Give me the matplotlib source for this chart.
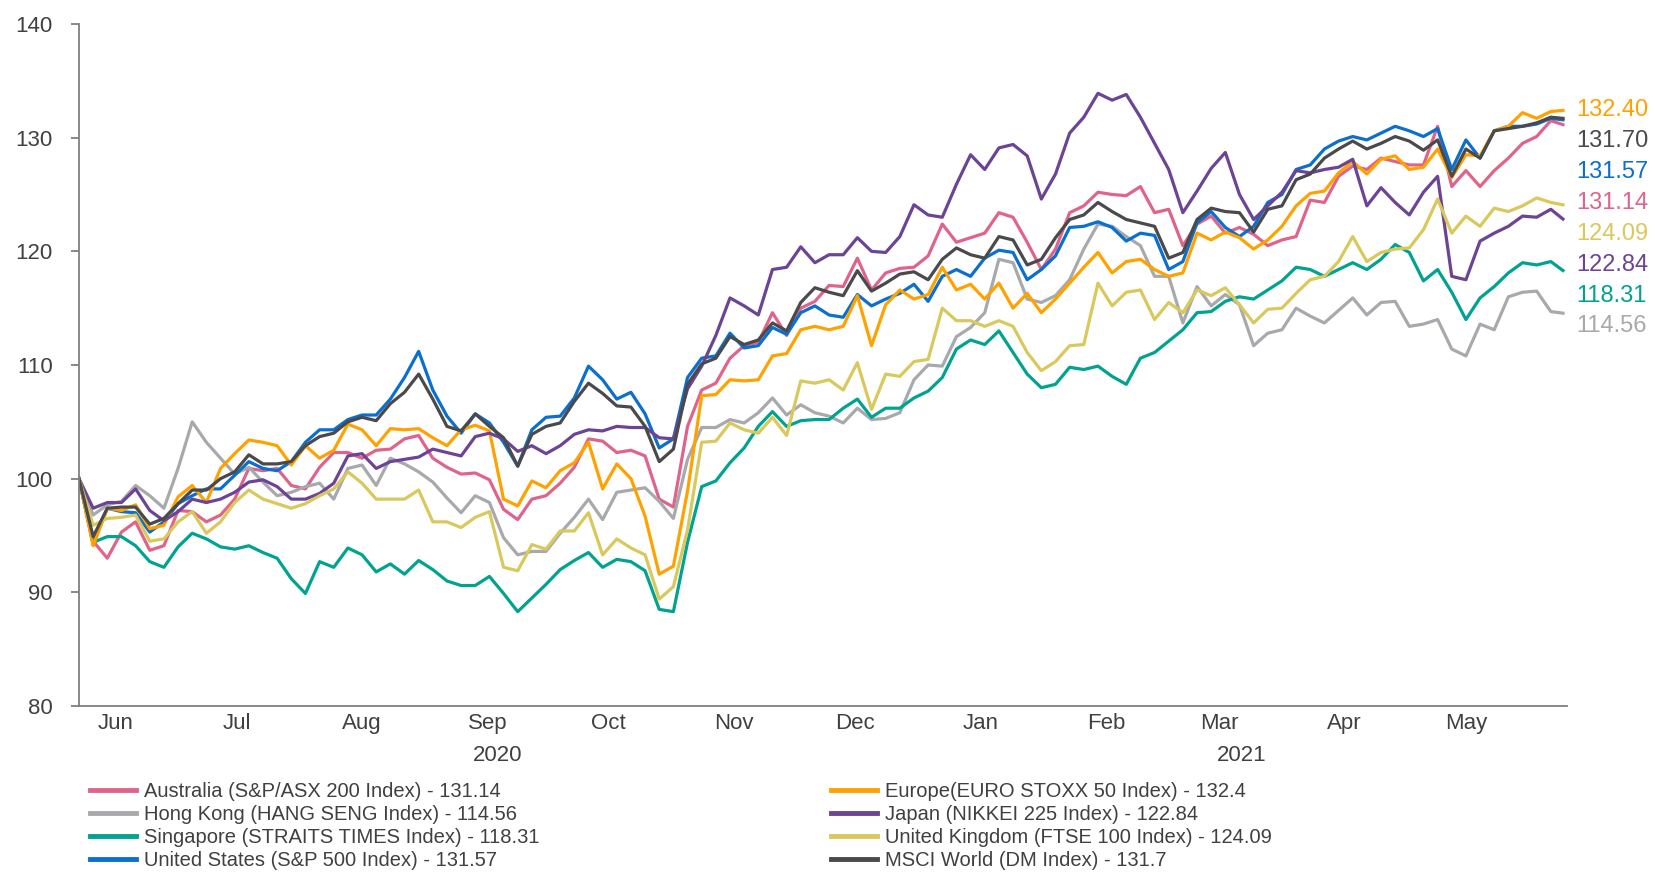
import pandas as pd
import numpy as np
import matplotlib
matplotlib.use("Agg")
import matplotlib.pyplot as plt
import matplotlib.dates as mdates
import matplotlib.transforms as mtransforms

plt.rcParams['font.family'] = ['Liberation Sans', 'DejaVu Sans']

# twice-weekly index levels rebased to 100, last entry is the latest close
dates = list(pd.date_range("2020-06-05", periods=105, freq="84h")) + [pd.Timestamp("2021-06-07")]

australia = [100, 94.5, 93.0, 95.3, 96.2, 93.7, 94.1, 97.2, 97.1, 96.2,
             96.8, 98.2, 100.9, 100.7, 100.9, 99.4, 99.1, 101.0, 102.3, 102.3,
             101.8, 102.5, 102.6, 103.5, 103.8, 101.8, 101.0, 100.4, 100.5, 99.9,
             97.3, 96.4, 98.2, 98.5, 99.6, 101.0, 103.5, 103.3, 102.3, 102.5,
             102.0, 98.2, 97.5, 104.6, 107.8, 108.4, 110.6, 111.7, 112.0, 114.6,
             112.6, 115.0, 115.6, 117.0, 116.9, 119.4, 116.6, 118.1, 118.5, 118.6,
             119.6, 122.4, 120.8, 121.2, 121.6, 123.4, 123.0, 120.8, 118.4, 120.2,
             123.4, 124.0, 125.2, 125.0, 124.9, 125.7, 123.4, 123.7, 120.5, 122.4,
             123.1, 121.6, 122.1, 121.5, 120.5, 121.0, 121.3, 124.5, 124.3, 126.6,
             127.5, 127.2, 128.2, 127.9, 127.6, 127.6, 131.0, 125.7, 127.1, 125.7,
             127.1, 128.2, 129.5, 130.1, 131.5, 131.14]
hong_kong = [100, 96.8, 97.7, 98.0, 99.4, 98.5, 97.4, 100.9, 105.0, 103.2,
             101.8, 100.4, 101.0, 99.7, 98.5, 98.8, 99.3, 99.6, 98.2, 100.9,
             101.2, 99.4, 101.8, 101.3, 100.6, 99.7, 98.3, 97.0, 98.5, 97.9,
             94.8, 93.3, 93.6, 93.6, 95.2, 96.6, 98.2, 96.4, 98.8, 99.0,
             99.2, 98.0, 96.5, 101.7, 104.5, 104.5, 105.2, 104.9, 105.8, 107.1,
             105.6, 106.5, 105.8, 105.5, 104.9, 106.2, 105.2, 105.3, 105.8, 108.7,
             110.0, 109.9, 112.5, 113.3, 114.6, 119.3, 119.0, 115.8, 115.5, 116.1,
             117.5, 120.2, 122.4, 122.2, 121.3, 120.5, 117.8, 117.8, 113.7, 116.9,
             115.2, 116.2, 115.3, 111.7, 112.8, 113.1, 115.0, 114.3, 113.7, 114.8,
             115.9, 114.4, 115.5, 115.6, 113.4, 113.6, 114.0, 111.4, 110.8, 113.6,
             113.1, 116.0, 116.4, 116.5, 114.7, 114.56]
singapore = [100, 94.4, 94.9, 94.9, 94.1, 92.7, 92.2, 94.0, 95.2, 94.7,
             94.0, 93.8, 94.1, 93.5, 93.0, 91.2, 89.9, 92.7, 92.2, 93.9,
             93.3, 91.8, 92.5, 91.6, 92.8, 92.0, 91.0, 90.6, 90.6, 91.4,
             89.9, 88.3, 89.5, 90.7, 92.0, 92.8, 93.5, 92.2, 92.9, 92.7,
             91.9, 88.5, 88.3, 94.4, 99.3, 99.8, 101.4, 102.7, 104.6, 105.9,
             104.6, 105.1, 105.2, 105.2, 106.2, 107.0, 105.4, 106.2, 106.2, 107.1,
             107.7, 108.9, 111.4, 112.2, 111.8, 113.0, 111.1, 109.2, 108.0, 108.3,
             109.8, 109.6, 109.9, 109.0, 108.3, 110.6, 111.1, 112.1, 113.1, 114.6,
             114.7, 115.6, 116.0, 115.8, 116.6, 117.4, 118.6, 118.4, 117.8, 118.4,
             119.0, 118.4, 119.3, 120.6, 119.9, 117.4, 118.4, 116.4, 114.0, 115.9,
             116.9, 118.1, 119.0, 118.8, 119.1, 118.31]
united_states = [100, 94.2, 97.4, 97.1, 97.0, 95.3, 96.2, 97.8, 98.5, 99.1,
                 99.1, 100.3, 101.5, 100.9, 100.7, 101.5, 103.2, 104.3, 104.3, 105.2,
                 105.6, 105.6, 107.0, 108.9, 111.2, 107.8, 105.5, 104.0, 105.7, 104.9,
                 103.2, 101.1, 104.3, 105.4, 105.5, 107.1, 109.9, 108.7, 107.0, 107.6,
                 105.7, 102.7, 103.5, 108.9, 110.6, 110.8, 112.8, 111.5, 111.7, 113.3,
                 112.7, 114.6, 115.2, 114.4, 114.2, 116.2, 115.2, 115.8, 116.3, 117.1,
                 115.6, 117.8, 118.4, 117.8, 119.4, 120.1, 119.9, 117.5, 118.4, 119.6,
                 122.1, 122.2, 122.6, 122.1, 120.9, 121.6, 121.4, 118.4, 119.1, 122.5,
                 123.5, 122.1, 121.3, 122.2, 124.3, 125.0, 127.2, 127.6, 129.0, 129.7,
                 130.1, 129.8, 130.4, 131.0, 130.6, 130.1, 130.8, 127.2, 129.8, 128.2,
                 130.6, 131.0, 131.0, 131.2, 131.7, 131.57]
europe = [100, 94.1, 97.4, 97.2, 97.7, 95.6, 95.9, 98.4, 99.4, 97.9,
          100.9, 102.2, 103.4, 103.2, 102.9, 101.2, 102.9, 101.8, 102.5, 104.8,
          104.3, 102.9, 104.4, 104.3, 104.4, 103.6, 102.9, 104.3, 104.7, 104.2,
          98.2, 97.6, 99.8, 99.2, 100.7, 101.4, 103.2, 99.1, 101.3, 100.0,
          96.7, 91.6, 92.3, 98.9, 107.3, 107.4, 108.7, 108.6, 108.7, 110.8,
          111.0, 113.1, 113.4, 113.1, 113.4, 116.1, 111.7, 115.3, 116.6, 115.8,
          116.2, 118.6, 116.6, 117.1, 115.8, 117.2, 115.0, 116.3, 114.6, 115.8,
          117.2, 118.6, 119.9, 118.1, 119.1, 119.3, 118.4, 117.8, 118.1, 121.6,
          121.0, 121.7, 121.2, 120.2, 121.0, 122.2, 124.0, 125.1, 125.3, 126.9,
          127.9, 126.8, 128.1, 128.4, 127.2, 127.4, 129.0, 126.5, 128.5, 128.4,
          130.6, 131.0, 132.2, 131.7, 132.3, 132.40]
japan = [100, 97.4, 97.9, 97.9, 99.1, 97.2, 96.3, 97.1, 98.2, 97.9,
         98.2, 98.8, 99.7, 99.9, 99.3, 98.2, 98.2, 98.7, 99.6, 102.0,
         102.2, 100.9, 101.5, 101.7, 101.9, 102.6, 102.3, 102.0, 103.7, 104.0,
         103.5, 102.4, 102.9, 102.2, 102.9, 103.9, 104.3, 104.2, 104.6, 104.5,
         104.5, 103.6, 103.5, 107.9, 109.9, 112.6, 115.9, 115.2, 114.4, 118.4,
         118.6, 120.4, 119.0, 119.7, 119.7, 121.2, 120.0, 119.9, 121.3, 124.1,
         123.2, 123.0, 125.9, 128.5, 127.2, 129.1, 129.4, 128.4, 124.6, 126.8,
         130.4, 131.8, 133.9, 133.3, 133.8, 131.8, 129.5, 127.2, 123.4, 125.3,
         127.3, 128.7, 125.0, 122.8, 124.0, 125.2, 127.1, 126.9, 127.2, 127.4,
         128.1, 124.0, 125.6, 124.3, 123.2, 125.2, 126.6, 117.8, 117.5, 120.9,
         121.6, 122.2, 123.1, 123.0, 123.7, 122.84]
united_kingdom = [100, 95.9, 96.5, 96.6, 96.8, 94.5, 94.7, 96.2, 97.1, 95.2,
                  96.2, 97.9, 99.0, 98.2, 97.8, 97.4, 97.8, 98.5, 99.1, 100.6,
                  99.6, 98.2, 98.2, 98.2, 99.0, 96.2, 96.2, 95.7, 96.6, 97.1,
                  92.2, 91.9, 94.2, 93.8, 95.4, 95.4, 97.0, 93.3, 94.7, 93.9,
                  93.3, 89.4, 90.5, 95.5, 103.2, 103.3, 104.9, 104.3, 104.0, 105.4,
                  103.8, 108.6, 108.4, 108.7, 107.8, 110.2, 106.1, 109.2, 109.0, 110.3,
                  110.5, 115.0, 113.9, 113.9, 113.4, 113.9, 113.4, 111.1, 109.5, 110.3,
                  111.7, 111.8, 117.2, 115.2, 116.4, 116.6, 114.0, 115.5, 114.6, 116.6,
                  116.1, 116.8, 115.3, 113.7, 114.9, 115.0, 116.3, 117.5, 117.8, 119.1,
                  121.3, 119.1, 119.9, 120.2, 120.3, 121.9, 124.6, 121.6, 123.1, 122.2,
                  123.8, 123.5, 124.0, 124.7, 124.3, 124.09]
msci_world = [100, 94.9, 97.4, 97.5, 97.5, 96.0, 96.5, 97.8, 99.0, 99.0,
              100.0, 100.6, 102.1, 101.3, 101.3, 101.5, 102.9, 103.7, 104.0, 105.0,
              105.4, 105.1, 106.6, 107.6, 109.2, 107.0, 104.6, 104.2, 105.7, 104.6,
              103.6, 101.1, 103.9, 104.6, 104.9, 106.8, 108.4, 107.5, 106.4, 106.3,
              104.6, 101.5, 102.6, 108.3, 110.1, 110.6, 112.5, 111.8, 112.2, 113.7,
              113.0, 115.5, 116.8, 116.4, 116.1, 118.3, 116.5, 117.2, 118.0, 118.2,
              117.5, 119.3, 120.3, 119.7, 119.4, 121.3, 121.0, 118.8, 119.3, 121.2,
              122.8, 123.2, 124.3, 123.5, 122.8, 122.5, 122.2, 119.4, 119.9, 122.8,
              123.8, 123.5, 123.4, 121.7, 123.7, 124.0, 126.3, 126.8, 128.2, 129.0,
              129.7, 129.0, 129.5, 130.1, 129.7, 128.9, 129.8, 126.6, 129.0, 128.2,
              130.6, 130.8, 131.0, 131.3, 131.8, 131.70]

labels = ["Australia (S&P/ASX 200 Index) - 131.14",
          "Hong Kong (HANG SENG Index) - 114.56",
          "Singapore (STRAITS TIMES Index) - 118.31",
          "United States (S&P 500 Index) - 131.57",
          "Europe(EURO STOXX 50 Index) - 132.4",
          "Japan (NIKKEI 225 Index) - 122.84",
          "United Kingdom (FTSE 100 Index) - 124.09",
          "MSCI World (DM Index) - 131.7"]
end_labels = ["131.14", "114.56", "118.31", "131.57", "132.40", "122.84", "124.09", "131.70"]
colors = ["#E0648A", "#A7A9AC", "#00A38F", "#0A6FCF", "#FFA200", "#6B4496", "#D9C85C", "#4A4A4C"]
series = [australia, hong_kong, singapore, united_states, europe, japan, united_kingdom, msci_world]

text_col = "#404040"
axis_col = "#7F7F7F"

fig = plt.figure(figsize=(16.55, 8.72), dpi=100)
ax = fig.add_axes([79 / 1655, 1 - 706 / 872, (1567 - 79) / 1655, 682 / 872])

handles = []
for vals, lab, col in zip(series, labels, colors):
    h, = ax.plot(dates, vals, color=col, lw=2.3, label=lab, solid_joinstyle="round")
    handles.append(h)

ax.set_ylim(80, 140)
ax.set_yticks(np.arange(80, 141, 10))
ax.set_xlim(dates[0], pd.Timestamp("2021-06-08"))
ax.xaxis.set_major_locator(mdates.MonthLocator(bymonthday=14))
ax.xaxis.set_major_formatter(mdates.DateFormatter("%b"))

for s in ["top", "right"]:
    ax.spines[s].set_visible(False)
for s in ["left", "bottom"]:
    ax.spines[s].set_color(axis_col)
    ax.spines[s].set_linewidth(1.3)

ax.tick_params(axis="y", length=6, width=1.3, color=axis_col, labelsize=16, labelcolor=text_col, pad=13)
ax.tick_params(axis="x", length=0, labelsize=16, labelcolor=text_col, pad=5)

# year labels under the months
trans = mtransforms.blended_transform_factory(ax.transData, ax.transAxes)
x0, x1 = ax.get_xlim()
split = mdates.date2num(pd.Timestamp("2021-01-01"))
ax.text((x0 + split) / 2 - 1.5, -0.072, "2020", transform=trans, ha="center", va="center",
        fontsize=16, color=text_col)
ax.text((split + x1) / 2 - 1.5, -0.072, "2021", transform=trans, ha="center", va="center",
        fontsize=16, color=text_col)

# latest values stacked at the right edge
order = np.argsort([-float(t) for t in end_labels])
top_val = float(end_labels[order[0]])
for k, idx in enumerate(order):
    ax.annotate(end_labels[idx], xy=(1, top_val), xycoords=("axes fraction", "data"),
                xytext=(7, 0.5 - k * 22.3), textcoords="offset points", ha="left", va="center",
                fontsize=17, color=colors[idx], annotation_clip=False)

leg_kw = dict(loc="upper left", frameon=False, fontsize=14.5, handlelength=2.3,
              handletextpad=0.4, labelspacing=0.2, borderpad=0, borderaxespad=0,
              labelcolor=text_col)
leg1 = fig.legend(handles[:4], labels[:4], bbox_to_anchor=(90 / 1655, 1 - 782 / 872), **leg_kw)
leg2 = fig.legend(handles[4:], labels[4:], bbox_to_anchor=(831 / 1655, 1 - 782 / 872), **leg_kw)
for leg in (leg1, leg2):
    for line in leg.get_lines():
        line.set_linewidth(3.5)

fig.savefig("out.png", dpi=100)
